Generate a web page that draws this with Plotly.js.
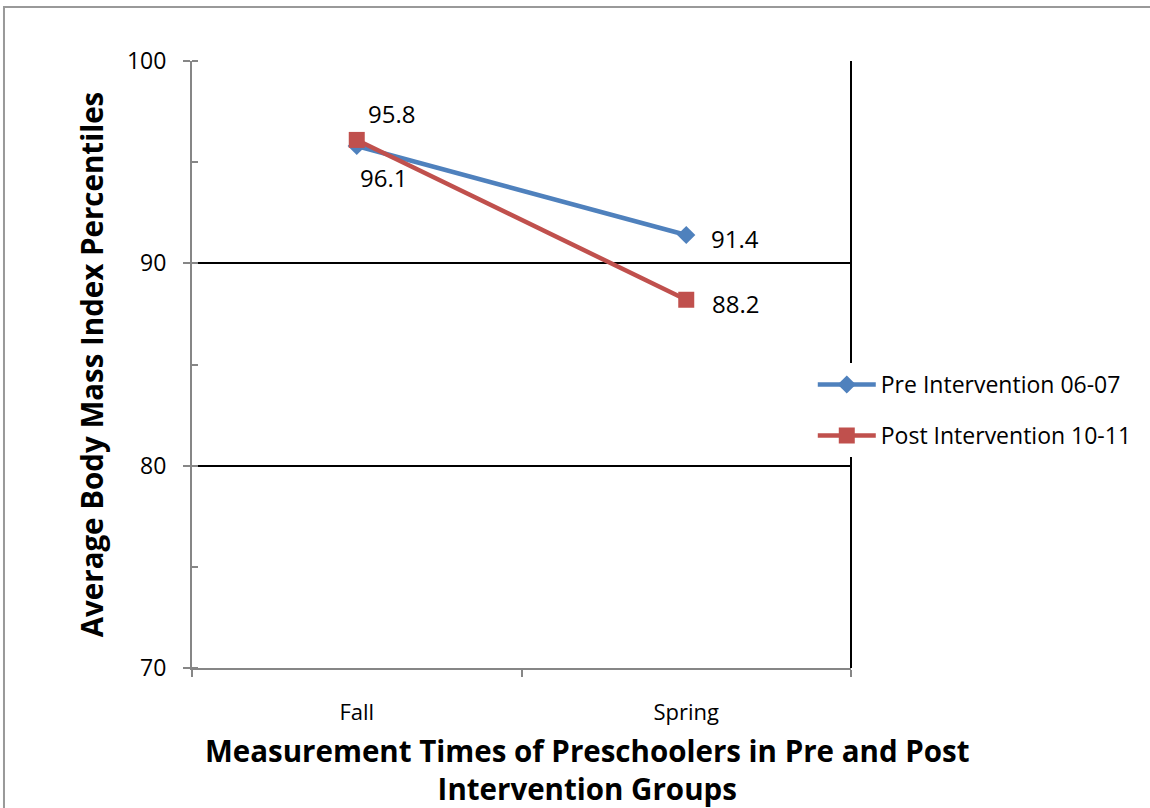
<!DOCTYPE html>
<html>
<head>
<meta charset="utf-8">
<script src="https://cdn.plot.ly/plotly-3.0.1.min.js"></script>
<style>html,body{margin:0;padding:0;background:#fff;}#chart{width:1150px;height:808px;}</style>
</head>
<body>
<div id="chart"></div>
<script>
const categories = ["Fall", "Spring"];
const preValues = [95.8, 91.4];
const postValues = [96.1, 88.2];
const preName = "Pre Intervention 06-07";
const postName = "Post Intervention 10-11";
const yTitle = "Average Body Mass Index Percentiles";
const xTitle = "Measurement Times of Preschoolers in Pre and Post<br>Intervention Groups";

const FONT = "Open Sans, Noto Sans, DejaVu Sans, sans-serif";
const BLUE = "#4F81BD";
const RED = "#C0504D";

const traces = [
  {
    x: categories, y: preValues, name: preName, type: "scatter", mode: "lines+markers",
    line: {color: BLUE, width: 4.5},
    marker: {symbol: "diamond", size: 14, color: BLUE},
    legendgroup: "a", cliponaxis: false
  },
  {
    x: categories, y: postValues, name: postName, type: "scatter", mode: "lines+markers",
    line: {color: RED, width: 4.5},
    marker: {symbol: "square", size: 16, color: RED},
    legendgroup: "b", cliponaxis: false
  }
];

const labelShifts = {
  pre: [[35, 32], [49, -3]],
  post: [[27, -38], [49, -4]]
};
const annotations = [];
categories.forEach((c, i) => {
  annotations.push({x: c, y: preValues[i], xref: "x", yref: "y", text: preValues[i].toFixed(1),
    showarrow: false, xshift: labelShifts.pre[i][0], yshift: labelShifts.pre[i][1],
    font: {family: FONT, size: 24, color: "#000"}});
  annotations.push({x: c, y: postValues[i], xref: "x", yref: "y", text: postValues[i].toFixed(1),
    showarrow: false, xshift: labelShifts.post[i][0], yshift: labelShifts.post[i][1],
    font: {family: FONT, size: 24, color: "#000"}});
});
annotations.push({
  text: "<b>" + yTitle + "</b>", xref: "paper", yref: "paper", x: -0.152, y: 0.5,
  textangle: -90, showarrow: false, xanchor: "center", yanchor: "middle",
  font: {family: FONT, size: 29.5, color: "#000"}
});
annotations.push({
  text: "<b>" + xTitle + "</b>", xref: "paper", yref: "paper", x: 0.6, y: -0.167,
  showarrow: false, xanchor: "center", yanchor: "middle", align: "center",
  font: {family: FONT, size: 29.5, color: "#000"}
});

const layout = {
  width: 1150, height: 808,
  margin: {l: 192, r: 299, t: 61, b: 140},
  paper_bgcolor: "#fff", plot_bgcolor: "#fff",
  showlegend: true,
  legend: {
    x: 0.942, y: 0.425, xanchor: "left", yanchor: "middle",
    bgcolor: "#fff", borderwidth: 0, tracegroupgap: 18, traceorder: "grouped",
    itemwidth: 58,
    font: {family: FONT, size: 23, color: "#000"}
  },
  xaxis: {
    type: "category", tickson: "boundaries", range: [-0.5, 1.5],
    showline: true, linecolor: "#868686", linewidth: 2,
    ticks: "outside", ticklen: 7, tickcolor: "#868686", tickwidth: 1.5,
    showgrid: false, zeroline: false,
    tickfont: {family: FONT, size: 22, color: "#000"},
    ticklabelstandoff: 24
  },
  yaxis: {
    range: [70, 100], dtick: 10, tick0: 70,
    showline: true, linecolor: "#868686", linewidth: 2,
    ticks: "outside", ticklen: 7, tickcolor: "#868686", tickwidth: 1.5,
    minor: {dtick: 5, ticks: "inside", ticklen: 6, tickcolor: "#868686", tickwidth: 1.5, showgrid: false},
    showgrid: true, gridcolor: "#000", gridwidth: 2,
    zeroline: false,
    tickfont: {family: FONT, size: 23, color: "#000"},
    ticklabelstandoff: 12
  },
  shapes: [
    {type: "line", xref: "paper", yref: "paper", x0: 1, x1: 1, y0: 0, y1: 1,
     line: {color: "#000", width: 2}, layer: "above"},
    {type: "rect", xref: "paper", yref: "paper", x0: -0.2853, x1: 1.47, y0: -0.25, y1: 1.089,
     line: {color: "#999", width: 2}, layer: "below"}
  ],
  annotations: annotations
};

Plotly.newPlot("chart", traces, layout, {displayModeBar: false, responsive: false});
</script>
</body>
</html>
